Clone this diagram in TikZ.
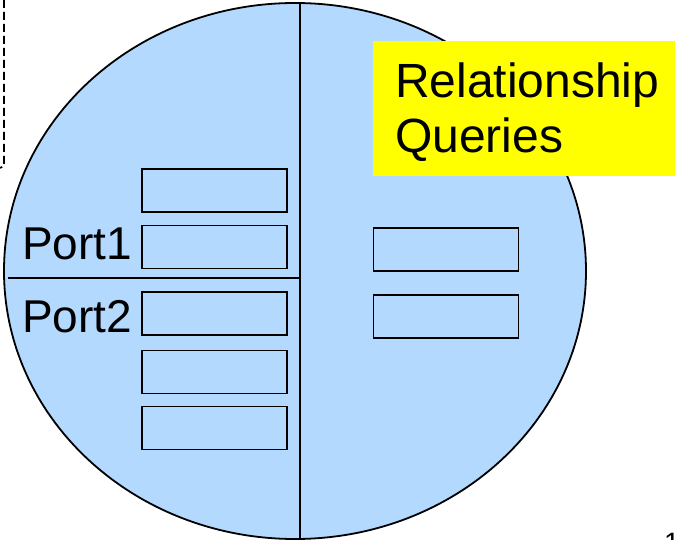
\documentclass[tikz,border=0pt]{standalone}
\usepackage{fontspec}
\setmainfont{Liberation Sans}
\definecolor{portblue}{RGB}{179,217,255}
\definecolor{tagyellow}{RGB}{255,255,0}
\tikzset{
  slot/.style={draw, line width=1.6pt, minimum width=145pt, minimum height=43pt, inner sep=0pt},
  label/.style={anchor=base west, inner sep=0pt, font=\fontsize{46}{55}\selectfont}
}
\begin{document}
\begin{tikzpicture}[x=1pt,y=-1pt]
        \useasboundingbox (0,0) rectangle (675,540);

        % Borda tracejada
        \draw[dashed, line width=1.6pt, dash pattern=on 8pt off 4pt] (4,0) -- (4,166) -- (0,168);

        % Elipse
        \coordinate (C) at (295,271);
        \draw[fill=portblue, line width=1.8pt] (C) ellipse [x radius=291pt, y radius=268pt];

        % Divisorias
        \draw[line width=1.6pt] (300,4) -- (300,539);
        \draw[line width=1.6pt] (8,278) -- (300,278);

        % Caixas da esquerda
        \node[slot] (L1) at (214.5,190.5) {};
        \node[slot] (L2) at (214.5,247) {};
        \node[slot] (L3) at (214.5,313.5) {};
        \node[slot] (L4) at (214.5,372) {};
        \node[slot] (L5) at (214.5,428) {};

        % Caixas da direita
        \node[slot] (R1) at (446,249.5) {};
        \node[slot] (R2) at (446,316.5) {};

        % Portas
        \node[label] (p1) at (22,260) {Port1};
        \node[label] (p2) at (22,332) {Port2};

        % Etiqueta amarela
        \fill[tagyellow] (373,41) rectangle (675,176);
        \node[label, font=\fontsize{48}{55}\selectfont] (rel) at (395,98) {Relationship};
        \node[label, font=\fontsize{48}{55}\selectfont] (qry) at (395,153) {Queries};

        % Numero da pagina
        \node[anchor=base west, inner sep=0pt, font=\fontsize{28}{30}\selectfont] (pg) at (664,552) {1};
    \end{tikzpicture}
\end{document}
